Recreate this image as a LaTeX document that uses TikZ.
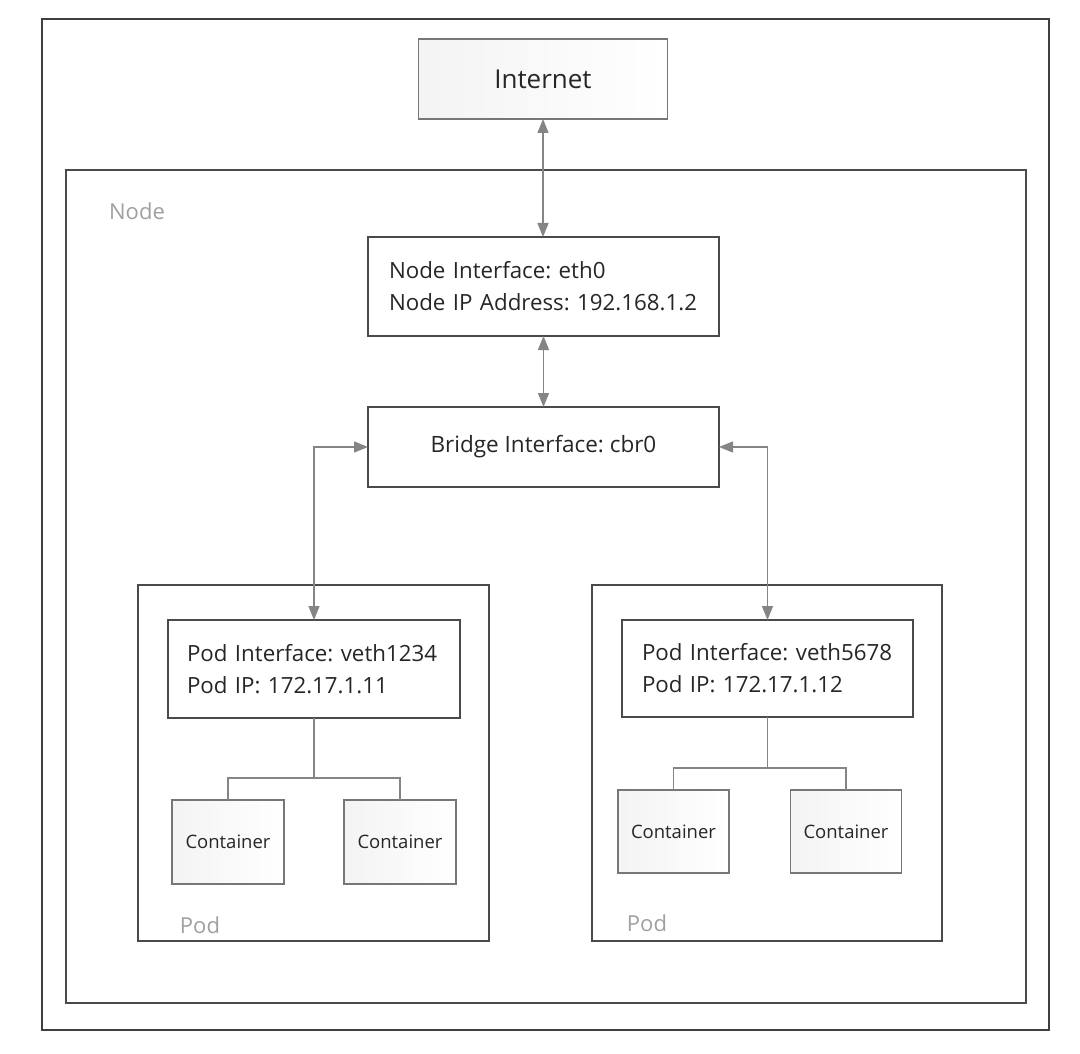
\documentclass[tikz,border=0pt]{standalone}
\usepackage{fontspec}
\setmainfont{Open Sans}
\usetikzlibrary{arrows.meta}
\definecolor{boxline}{HTML}{4A4A4A}
\definecolor{frameline}{HTML}{3F3F3F}
\definecolor{arrowline}{HTML}{858585}
\definecolor{txt}{HTML}{262626}
\definecolor{lbl}{HTML}{A0A0A0}
\begin{document}
\frenchspacing
\begin{tikzpicture}[x=1pt,y=-1pt,
  every node/.style={inner sep=0pt, outer sep=0pt, text=txt},
  box/.style={draw=boxline, line width=1.8pt, fill=white},
  shadedbox/.style={draw=boxline!75, line width=1.5pt, left color=gray!9, right color=white},
  ifbox/.style={box, font=\fontsize{22.3}{32}\selectfont, align=left},
  link/.style={draw=arrowline, line width=1.4pt, {Triangle[length=14pt,width=11pt]}-{Triangle[length=14pt,width=11pt]}},
  tree/.style={draw=arrowline, line width=1.3pt},
  frame/.style={draw=frameline, line width=2.2pt},
  inner/.style={draw=boxline, line width=2pt},
  tag/.style={text=lbl, font=\fontsize{22}{26}\selectfont}
]
\useasboundingbox (0,0) rectangle (1080,1054);
\fill[white] (0,0) rectangle (1080,1054);

% outer frame and the node frame
\draw[frame] (42,19) rectangle (1049,1030);
\draw[inner] (66,170) rectangle (1026,1003);
\node[tag] (nodetag) at (137,211) {Node};

% internet and the node's own interfaces
\node[shadedbox, minimum width=249pt, minimum height=80pt, font=\fontsize{26}{30}\selectfont] (inet) at (543,79) {Internet};
\node[ifbox, minimum width=351pt, minimum height=99pt, text width=309pt] (nodeif) at (543.5,286.5)
  {Node Interface: eth0\\Node IP Address: 192.168.1.2};
\node[box, minimum width=351pt, minimum height=80pt, font=\fontsize{22.5}{26}\selectfont] (bridge) at (543.5,447)
  {Bridge Interface: cbr0};

% pod frames
\draw[inner] (138,585) rectangle (489,941);
\draw[inner] (592,585) rectangle (942,941);
\node[tag] (podtagA) at (200,925) {Pod};
\node[tag] (podtagB) at (647,923) {Pod};

% pod interfaces
\node[ifbox, minimum width=292pt, minimum height=98pt, text width=254pt] (podifA) at (314,669)
  {Pod Interface: veth1234\\Pod IP: 172.17.1.11};
\node[ifbox, minimum width=291pt, minimum height=97pt, text width=251pt] (podifB) at (767.5,668.5)
  {Pod Interface: veth5678\\Pod IP: 172.17.1.12};

% containers
\tikzset{ctr/.style={shadedbox, minimum width=112pt, minimum height=84pt, font=\fontsize{18.5}{22}\selectfont}}
\node[ctr] (c1) at (228,842) {Container};
\node[ctr] (c2) at (400,842) {Container};
\node[ctr, minimum width=111pt, minimum height=83pt] (c3) at (673.5,831.5) {Container};
\node[ctr, minimum width=111pt, minimum height=83pt] (c4) at (846,831.5) {Container};

% network links
\draw[link] (inet.south) -- (nodeif.north -| inet.south);
\draw[link] (nodeif.south) -- (bridge.north);
\draw[link] (bridge.west) -| (podifA.north);
\draw[link] (bridge.east) -| (podifB.north);

% container attachments
\draw[tree] (podifA.south) -- ++(0,60) coordinate (jA);
\draw[tree] (jA) -| (c1.north);
\draw[tree] (jA) -| (c2.north);
\draw[tree] (podifB.south) -- ++(0,51) coordinate (jB);
\draw[tree] (jB) -| (c3.north);
\draw[tree] (jB) -| (c4.north);
\end{tikzpicture}
\end{document}
